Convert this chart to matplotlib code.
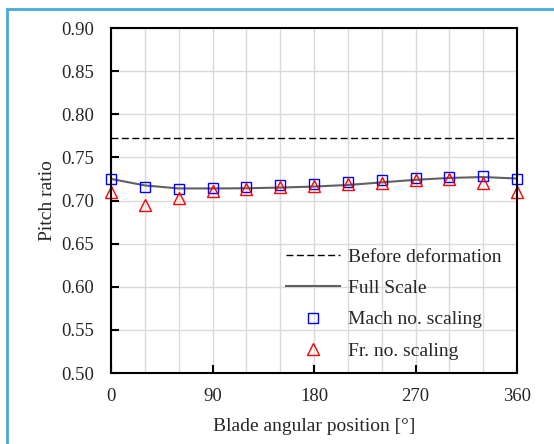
import numpy as np
import matplotlib.pyplot as plt
from matplotlib.patches import Rectangle

plt.rcParams['font.family'] = ['Liberation Serif', 'DejaVu Serif']

angle = [0, 30, 60, 90, 120, 150, 180, 210, 240, 270, 300, 330, 360]
full_scale = [0.7250, 0.7175, 0.7140, 0.7140, 0.7142, 0.7150, 0.7162, 0.7180, 0.7210, 0.7240, 0.7262, 0.7272, 0.7255]
mach = [0.7245, 0.7156, 0.7130, 0.7148, 0.7160, 0.7180, 0.7187, 0.7217, 0.7234, 0.7264, 0.7275, 0.7283, 0.7252]
froude = [0.7102, 0.6944, 0.7025, 0.7110, 0.7130, 0.7156, 0.7168, 0.7187, 0.7206, 0.7237, 0.7245, 0.7206, 0.7102]
before = 0.7725

fig = plt.figure(figsize=(5.54, 4.44), dpi=100)
ax = fig.add_axes([0.2004, 0.1599, 0.7328, 0.7770])

# light blue frame of the original picture (cropped on right/bottom)
fig.patches.append(Rectangle((7 / 554, -0.1), 1.2, 1 - 9 / 444 + 0.1, transform=fig.transFigure,
                             fill=False, edgecolor='#4aa8de', linewidth=2))

ax.plot([0, 360], [before, before], color='black', linestyle=(0, (5, 2.5)), linewidth=1, label='Before deformation')
ax.plot(angle, full_scale, color='#606060', linewidth=1.5, label='Full Scale')
ax.plot(angle, mach, linestyle='none', marker='s', markersize=7, markerfacecolor='none',
        markeredgecolor='blue', markeredgewidth=1, clip_on=False, label='Mach no. scaling')
ax.plot(angle, froude, linestyle='none', marker='^', markersize=8.5, markerfacecolor='none',
        markeredgecolor='red', markeredgewidth=1, clip_on=False, label='Fr. no. scaling')

ax.set_xlim(0, 360)
ax.set_ylim(0.50, 0.90)
ax.set_xticks(np.arange(0, 361, 90))
ax.set_xticks(np.arange(0, 361, 30), minor=True)
ax.set_yticks(np.arange(0.50, 0.901, 0.05))
ax.set_yticklabels([f'{v:.2f}' for v in np.arange(0.50, 0.901, 0.05)])
ax.grid(True, which='both', color='#d9d9d9', linewidth=1)
ax.set_axisbelow(True)
ax.tick_params(axis='both', which='major', direction='in', length=6, width=1.5, labelsize=13.5,
               labelcolor='#262626')
ax.tick_params(axis='y', which='major', pad=12)
ax.tick_params(axis='x', which='major', pad=11)
ax.tick_params(axis='x', which='minor', length=0)
for s in ax.spines.values():
    s.set_linewidth(1.5)

ax.set_xlabel('Blade angular position [°]', fontsize=14, labelpad=9, color='#262626')
ax.set_ylabel('Pitch ratio', fontsize=14, labelpad=4, color='#262626')

leg = ax.legend(loc='lower right', bbox_to_anchor=(1.005, -0.012), frameon=False, fontsize=14,
                handlelength=2.8, labelspacing=0.7, handletextpad=0.4)
for t in leg.get_texts():
    t.set_color('#262626')

fig.savefig('out.png', dpi=100)
